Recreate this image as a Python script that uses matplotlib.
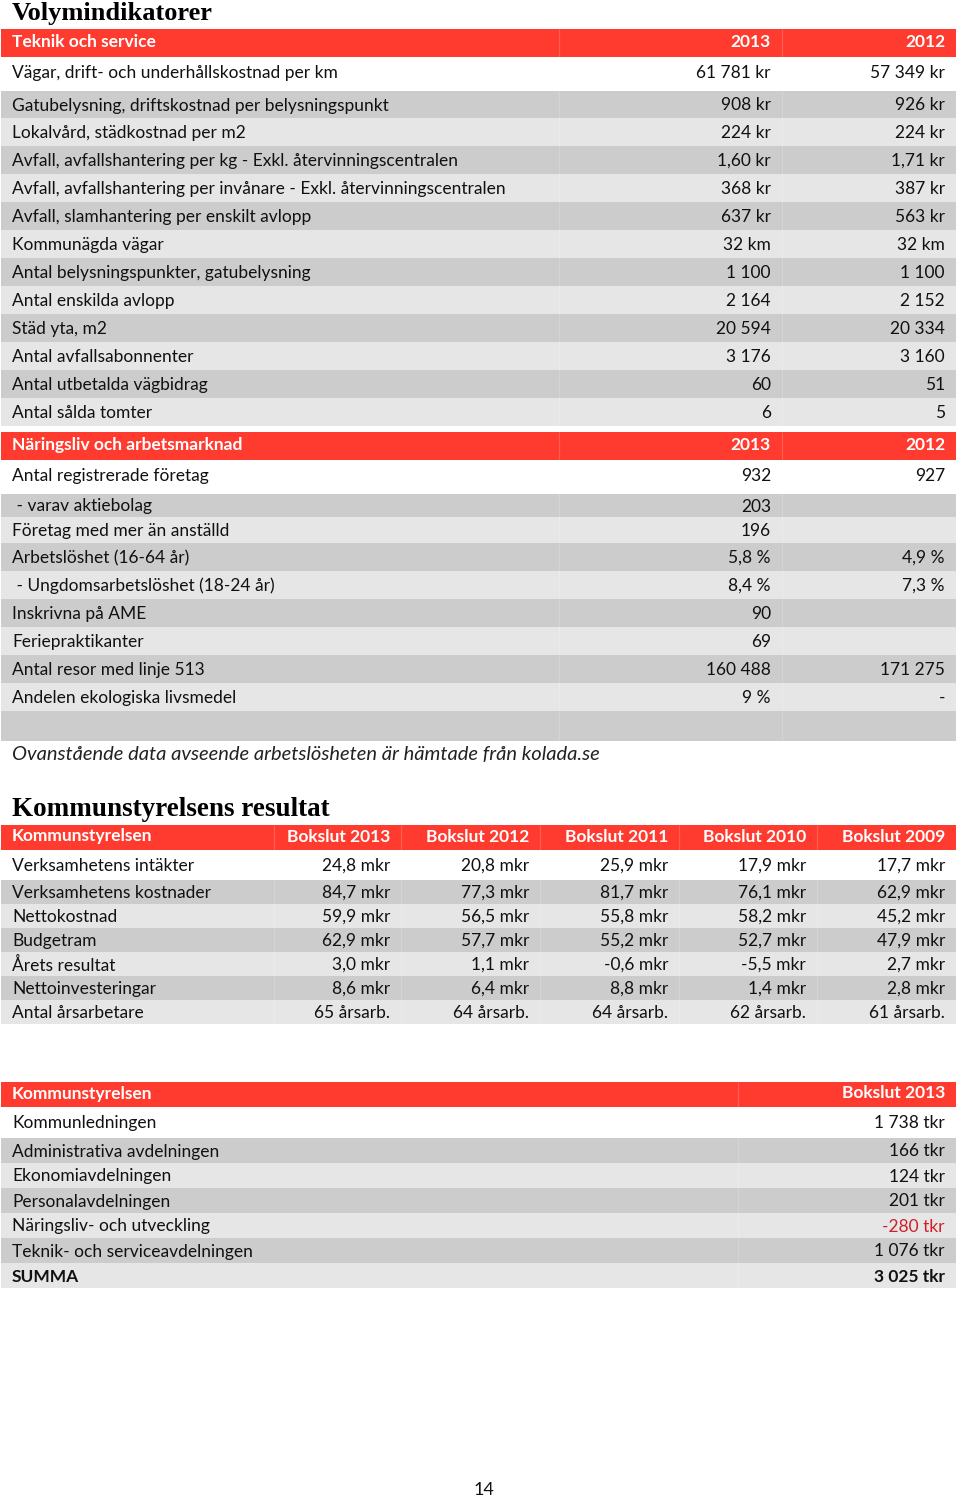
import matplotlib.pyplot as plt

plt.rcParams['font.family'] = ['Lato', 'DejaVu Sans']

RED = '#FF3B2F'
DARK = '#CCCCCC'
LIGHT = '#E6E6E6'
NEG = '#D0202A'

# Volymindikatorer - Teknik och service
teknik_labels = [
    'Vägar, drift- och underhållskostnad per km',
    'Gatubelysning, driftskostnad per belysningspunkt',
    'Lokalvård, städkostnad per m2',
    'Avfall, avfallshantering per kg - Exkl. återvinningscentralen',
    'Avfall, avfallshantering per invånare - Exkl. återvinningscentralen',
    'Avfall, slamhantering per enskilt avlopp',
    'Kommunägda vägar',
    'Antal belysningspunkter, gatubelysning',
    'Antal enskilda avlopp',
    'Städ yta, m2',
    'Antal avfallsabonnenter',
    'Antal utbetalda vägbidrag',
    'Antal sålda tomter',
]
teknik_2013 = ['61 781 kr', '908 kr', '224 kr', '1,60 kr', '368 kr', '637 kr', '32 km',
               '1 100', '2 164', '20 594', '3 176', '60', '6']
teknik_2012 = ['57 349 kr', '926 kr', '224 kr', '1,71 kr', '387 kr', '563 kr', '32 km',
               '1 100', '2 152', '20 334', '3 160', '51', '5']

# Näringsliv och arbetsmarknad
naring_labels = [
    'Antal registrerade företag',
    ' - varav aktiebolag',
    'Företag med mer än anställd',
    'Arbetslöshet (16-64 år)',
    ' - Ungdomsarbetslöshet (18-24 år)',
    'Inskrivna på AME',
    'Feriepraktikanter',
    'Antal resor med linje 513',
    'Andelen ekologiska livsmedel',
]
naring_2013 = ['932', '203', '196', '5,8 %', '8,4 %', '90', '69', '160 488', '9 %']
naring_2012 = ['927', '', '', '4,9 %', '7,3 %', '', '', '171 275', '-']

# Kommunstyrelsens resultat
ks_columns = ['Bokslut 2013', 'Bokslut 2012', 'Bokslut 2011', 'Bokslut 2010', 'Bokslut 2009']
ks_labels = ['Verksamhetens intäkter', 'Verksamhetens kostnader', 'Nettokostnad', 'Budgetram',
             'Årets resultat', 'Nettoinvesteringar', 'Antal årsarbetare']
ks_2013 = ['24,8 mkr', '84,7 mkr', '59,9 mkr', '62,9 mkr', '3,0 mkr', '8,6 mkr', '65 årsarb.']
ks_2012 = ['20,8 mkr', '77,3 mkr', '56,5 mkr', '57,7 mkr', '1,1 mkr', '6,4 mkr', '64 årsarb.']
ks_2011 = ['25,9 mkr', '81,7 mkr', '55,8 mkr', '55,2 mkr', '-0,6 mkr', '8,8 mkr', '64 årsarb.']
ks_2010 = ['17,9 mkr', '76,1 mkr', '58,2 mkr', '52,7 mkr', '-5,5 mkr', '1,4 mkr', '62 årsarb.']
ks_2009 = ['17,7 mkr', '62,9 mkr', '45,2 mkr', '47,9 mkr', '2,7 mkr', '2,8 mkr', '61 årsarb.']

# Avdelningar
avd_labels = ['Kommunledningen', 'Administrativa avdelningen', 'Ekonomiavdelningen',
              'Personalavdelningen', 'Näringsliv- och utveckling',
              'Teknik- och serviceavdelningen', 'SUMMA']
avd_2013 = ['1 738 tkr', '166 tkr', '124 tkr', '201 tkr', '-280 tkr', '1 076 tkr', '3 025 tkr']

FS = 12.5
LEFT, RIGHT = 1, 956
SERIF = ['Liberation Serif', 'DejaVu Serif']

fig = plt.figure(figsize=(9.6, 14.98), dpi=100)
ax = fig.add_axes([0, 0, 1, 1])
ax.set_xlim(0, 960)
ax.set_ylim(1498, 0)
ax.axis('off')


def band(top, h, color):
    ax.barh(top + h / 2, RIGHT - LEFT, left=LEFT, height=h, color=color, linewidth=0)


def table(top, header, columns, labels, values, row_h, edges, header_h=28, extra_row=None,
          bold_last=False, color_fn=None):
    band(top, header_h, RED)
    ty = top + header_h / 2 - 1
    ax.text(12, ty, header, color='white', fontsize=FS, fontweight='bold', va='center')
    rights = edges[-len(columns):]
    for c, r in zip(columns, rights):
        ax.text(r - 11, ty, c, color='white', fontsize=FS, fontweight='bold', va='center', ha='right')
    y = top + header_h
    for i, lab in enumerate(labels):
        h = row_h[i]
        shade = 'white' if i == 0 else (DARK if i % 2 == 1 else LIGHT)
        band(y, h, shade)
        yt = y + min(h / 2 + 1, 16)
        bold = 'bold' if (bold_last and i == len(labels) - 1) else 'normal'
        ax.text(12, yt, lab, fontsize=FS, va='center', fontweight=bold, color='#111111')
        for col, r in zip(values, rights):
            txt = col[i]
            clr = color_fn(txt) if color_fn else '#111111'
            ax.text(r - 11, yt, txt, fontsize=FS, va='center', ha='right', fontweight=bold, color=clr)
        y += h
    if extra_row:
        band(y, extra_row, DARK if len(labels) % 2 == 1 else LIGHT)
        y += extra_row
    # faint column separators
    ax.vlines(edges[1:-1], top, y, color='white', alpha=0.18, lw=0.8)
    return y


ax.text(12, 20, 'Volymindikatorer', family=SERIF, fontsize=19, fontweight='bold', va='baseline')

y = table(29, 'Teknik och service', ['2013', '2012'], teknik_labels,
          [teknik_2013, teknik_2012], [34, 27] + [28] * 11, [LEFT, 559, 782, RIGHT])
y = table(y + 6, 'Näringsliv och arbetsmarknad', ['2013', '2012'], naring_labels,
          [naring_2013, naring_2012], [34, 23, 26] + [28] * 6, [LEFT, 559, 782, RIGHT],
          extra_row=30)

ax.text(12, 755, 'Ovanstående data avseende arbetslösheten är hämtade från kolada.se',
        fontsize=14.5, style='italic', va='center', color='#222222')

ax.text(12, 816, 'Kommunstyrelsens resultat', family=SERIF, fontsize=19.5,
        fontweight='bold', va='baseline')

table(825, 'Kommunstyrelsen', ks_columns, ks_labels,
      [ks_2013, ks_2012, ks_2011, ks_2010, ks_2009], [30] + [24] * 6,
      [LEFT, 274, 401, 540, 679, 817, RIGHT], header_h=25)

table(1082, 'Kommunstyrelsen', ['Bokslut 2013'], avd_labels, [avd_2013],
      [31] + [25] * 6, [LEFT, 738, RIGHT], header_h=25, bold_last=True,
      color_fn=lambda t: NEG if t.startswith('-') else '#111111')

ax.text(484, 1490, '14', fontsize=13, ha='center', va='center', color='#111111')

fig.savefig('out.png', dpi=100)
